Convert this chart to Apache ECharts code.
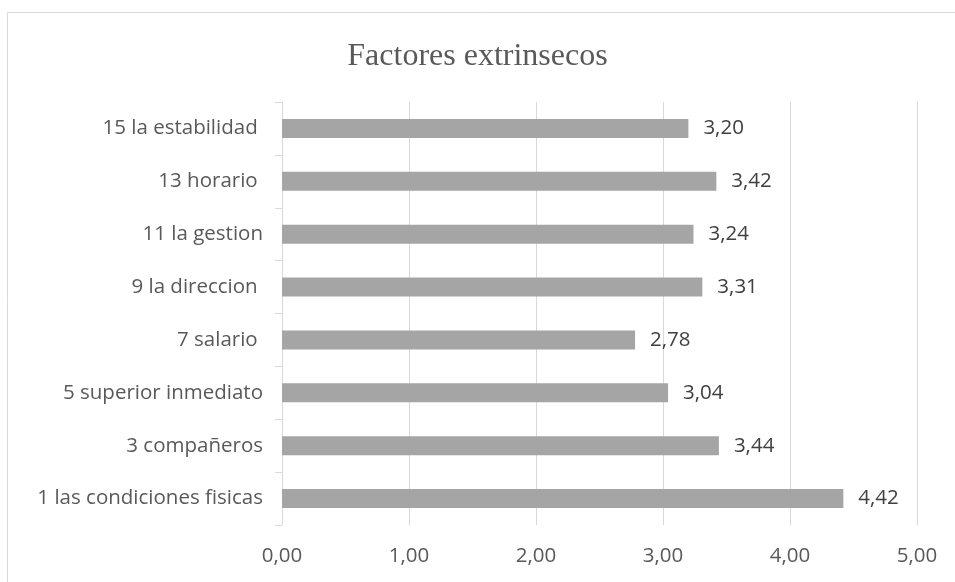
<!DOCTYPE html>
<html>
<head>
<meta charset="utf-8">
<script src="https://cdn.jsdelivr.net/npm/echarts@6/dist/echarts.min.js"></script>
<style>
  html, body { margin: 0; padding: 0; background: #fff; }
  #chart { width: 955px; height: 582px; }
</style>
</head>
<body>
<div id="chart"></div>
<script>
// Categories listed bottom-to-top (category axis starts at the bottom)
const categories = [
  '1 las condiciones fisicas',
  '3 compañeros',
  '5 superior inmediato',
  '7 salario ',
  '9 la direccion ',
  '11 la gestion',
  '13 horario ',
  '15 la estabilidad '
];
const values = [4.42, 3.44, 3.04, 2.78, 3.31, 3.24, 3.42, 3.20];
const titleText = 'Factores extrinsecos';

const fmt = v => v.toFixed(2).replace('.', ',');
const sans = '"Open Sans", "Liberation Sans", sans-serif';

const chart = echarts.init(document.getElementById('chart'));
chart.setOption({
  animation: false,
  backgroundColor: '#ffffff',
  title: {
    text: titleText,
    left: 'center',
    top: 36,
    textStyle: {
      fontFamily: '"Liberation Serif", "DejaVu Serif", serif',
      fontSize: 32,
      fontWeight: 'normal',
      color: '#595959'
    }
  },
  graphic: [{
    type: 'rect',
    shape: { x: 7.5, y: 12.5, width: 960, height: 600 },
    style: { fill: 'none', stroke: '#d9d9d9', lineWidth: 1 },
    silent: true,
    z: -1
  }],
  grid: { left: 282, right: 38, top: 102, bottom: 57 },
  xAxis: {
    type: 'value',
    min: 0,
    max: 5,
    interval: 1,
    axisLine: { show: false },
    axisTick: { show: false },
    splitLine: { lineStyle: { color: '#d9d9d9', width: 1 } },
    axisLabel: {
      formatter: v => fmt(v),
      color: '#595959',
      fontFamily: sans,
      fontSize: 20.5,
      margin: 21
    }
  },
  yAxis: {
    type: 'category',
    data: categories,
    axisLine: { show: true, lineStyle: { color: '#d9d9d9' } },
    axisTick: { show: true, length: 7, lineStyle: { color: '#d9d9d9' } },
    axisLabel: {
      color: '#595959',
      fontFamily: sans,
      fontSize: 20.5,
      margin: 19
    }
  },
  series: [{
    type: 'bar',
    data: values,
    barWidth: 19,
    itemStyle: { color: '#a5a5a5' },
    label: {
      show: true,
      position: 'right',
      distance: 15,
      formatter: p => fmt(p.value),
      color: '#404040',
      fontFamily: sans,
      fontSize: 20.5
    }
  }]
});
</script>
</body>
</html>
